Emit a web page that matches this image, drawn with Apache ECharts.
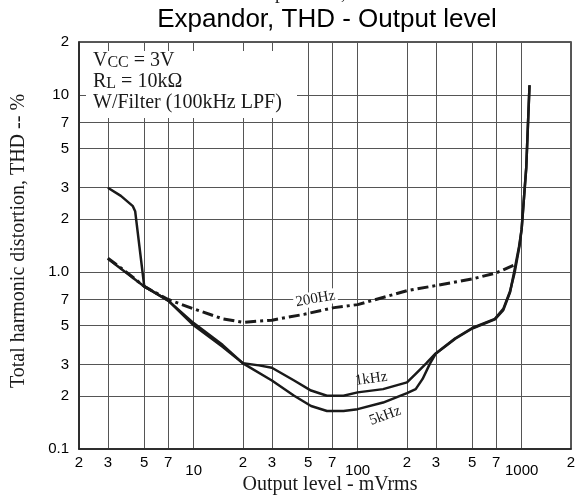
<!DOCTYPE html>
<html><head><meta charset="utf-8">
<script src="https://cdn.jsdelivr.net/npm/echarts@6/dist/echarts.min.js"></script>
<style>html,body{margin:0;padding:0;background:#fff}#c{width:582px;height:497px}</style>
</head><body><div id="c"></div>
<script>
// Tick values and labels
const xTickValues = [2, 3, 5, 7, 10, 20, 30, 50, 70, 100, 200, 300, 500, 700, 1000, 2000];
const xTickLabels = ['2','3','5','7','10','2','3','5','7','100','2','3','5','7','1000','2'];
const yTickValues = [0.1, 0.2, 0.3, 0.5, 0.7, 1, 2, 3, 5, 7, 10, 20];
const yTickLabels = ['0.1','2','3','5','7','1.0','2','3','5','7','10','2'];

// 200Hz (dash-dot)
const x200 = [3, 4, 5, 7, 10, 15, 20, 30, 47, 72, 100, 200, 300, 500, 700, 908];
const y200 = [1.2, 0.98, 0.83, 0.70, 0.62, 0.545, 0.52, 0.535, 0.577, 0.63, 0.655, 0.785, 0.84, 0.915, 0.99, 1.1];

// 1kHz (solid)
const x1k = [3, 5, 7, 10, 15, 20, 25, 30, 41, 52, 65, 82, 100, 143, 200, 226, 261, 299, 394, 500, 687, 773, 850, 908, 972, 1000, 1067, 1117];
const y1k = [1.19, 0.83, 0.69, 0.515, 0.388, 0.305, 0.297, 0.288, 0.244, 0.214, 0.2, 0.2, 0.209, 0.218, 0.238, 0.266, 0.304, 0.347, 0.423, 0.483, 0.544, 0.62, 0.78, 1.0, 1.42, 1.75, 3.9, 11.4];

// 5kHz (solid)
const x5k = [3, 3.6, 4.26, 4.4, 5, 7, 10, 15, 20, 30, 41, 52, 65, 82, 100, 143, 200, 226, 249, 276, 299, 394, 500, 687, 773, 850, 900, 965, 1000, 1067, 1117];
const y5k = [3.0, 2.7, 2.36, 2.21, 0.83, 0.69, 0.5, 0.378, 0.305, 0.244, 0.2, 0.175, 0.164, 0.164, 0.168, 0.183, 0.207, 0.218, 0.249, 0.304, 0.345, 0.42, 0.48, 0.54, 0.61, 0.77, 1.0, 1.4, 1.75, 3.9, 11.4];

const zip = (xs, ys) => xs.map((x, i) => [x, ys[i]]);
function lookup(v, vals, labels) {
  for (let i = 0; i < vals.length; i++) {
    if (Math.abs(Math.log10(v) - Math.log10(vals[i])) < 1e-6) return labels[i];
  }
  return '';
}
const SERIF = '"Liberation Serif", "DejaVu Serif", serif';
const SANS = '"Liberation Sans", Arial, sans-serif';
const INK = '#1a1a1a';
const GRID = '#555';

const chart = echarts.init(document.getElementById('c'));
const labelStyle = (txt, rot) => ({
  show: true, formatter: txt, rotate: rot, fontFamily: SERIF, fontSize: 15, color: INK
});
chart.setOption({
  animation: false,
  backgroundColor: '#fff',
  grid: { left: 79, right: 11, top: 42, bottom: 48, show: true, borderColor: '#222', borderWidth: 1.5 },
  xAxis: {
    type: 'log', logBase: 10, min: 2, max: 2000,
    axisLine: { show: true, lineStyle: { color: '#222', width: 1.5 } },
    axisTick: { show: false, customValues: xTickValues },
    splitLine: { show: true, lineStyle: { color: GRID, width: 1 } },
    axisLabel: {
      customValues: xTickValues, margin: 6, color: '#000', fontFamily: SANS, fontSize: 15,
      formatter: v => { const t = lookup(v, xTickValues, xTickLabels); return t.length > 1 ? '{d|' + t + '}' : t; },
      rich: { d: { fontFamily: SANS, fontSize: 15, color: '#000', padding: [8, 0, 0, 0] } }
    }
  },
  yAxis: {
    type: 'log', logBase: 10, min: 0.1, max: 20,
    axisLine: { show: true, lineStyle: { color: '#222', width: 1.5 } },
    axisTick: { show: false, customValues: yTickValues },
    splitLine: { show: true, lineStyle: { color: GRID, width: 1 } },
    axisLabel: {
      customValues: yTickValues, margin: 10, color: '#000', fontFamily: SANS, fontSize: 15,
      formatter: v => lookup(v, yTickValues, yTickLabels)
    }
  },
  graphic: [
    { type: 'rect', z: 100, shape: { x: 86, y: 51, width: 211, height: 67 }, style: { fill: '#fff' } },
    { type: 'text', z: 101, x: 93, y: 50, style: {
        text: '{n|V}{s|CC}{n| = 3V}\n{n|R}{s|L}{n| = 10kΩ}\n{n|W/Filter (100kHz LPF)}',
        fill: INK,
        rich: {
          n: { fontFamily: SERIF, fontSize: 20, lineHeight: 21, fill: INK },
          s: { fontFamily: SERIF, fontSize: 16, lineHeight: 21, fill: INK, padding: [5, 0, 0, 0] }
        }
    } },
    { type: 'text', z: 101, x: 327, y: 33, style: { text: 'Expandor, THD - Output level', fontFamily: SANS, fontSize: 26, fill: '#000', textAlign: 'center', textVerticalAlign: 'bottom' } },
    { type: 'text', z: 101, x: 330, y: 4, style: { text: 'Input level, – dBV', fontFamily: SERIF, fontSize: 19, fill: '#222', textAlign: 'center', textVerticalAlign: 'bottom' } },
    { type: 'text', z: 101, x: 330, y: 485, style: { text: 'Output level - mVrms', fontFamily: SERIF, fontSize: 20, fill: INK, textAlign: 'center', textVerticalAlign: 'middle' } },
    { type: 'text', z: 101, x: 19, y: 241, rotation: Math.PI / 2, style: { text: 'Total harmonic distortion, THD -- %', fontFamily: SERIF, fontSize: 20, fill: INK, textAlign: 'center', textVerticalAlign: 'middle' } }
  ],
  series: [
    {
      name: '200Hz', type: 'line', data: zip(x200, y200), showSymbol: false, symbol: 'none',
      smooth: false, z: 3,
      lineStyle: { color: INK, width: 3, type: [11, 4, 3, 4] },
      markPoint: { symbol: 'circle', symbolSize: 0, data: [
        { coord: [55.3, 0.706], label: Object.assign(labelStyle('200Hz', 10), { backgroundColor: '#fff', padding: [0, 2] }) }
      ] }
    },
    {
      name: '1kHz', type: 'line', data: zip(x1k, y1k), showSymbol: false, symbol: 'none',
      smooth: false, z: 4,
      lineStyle: { color: INK, width: 2.5, join: 'round' },
      markPoint: { symbol: 'circle', symbolSize: 0, data: [
        { coord: [121, 0.249], label: labelStyle('1kHz', 8) }
      ] }
    },
    {
      name: '5kHz', type: 'line', data: zip(x5k, y5k), showSymbol: false, symbol: 'none',
      smooth: false, z: 4,
      lineStyle: { color: INK, width: 2.5, join: 'round' },
      markPoint: { symbol: 'circle', symbolSize: 0, data: [
        { coord: [147, 0.154], label: labelStyle('5kHz', 20) }
      ] }
    }
  ]
});
</script></body></html>
